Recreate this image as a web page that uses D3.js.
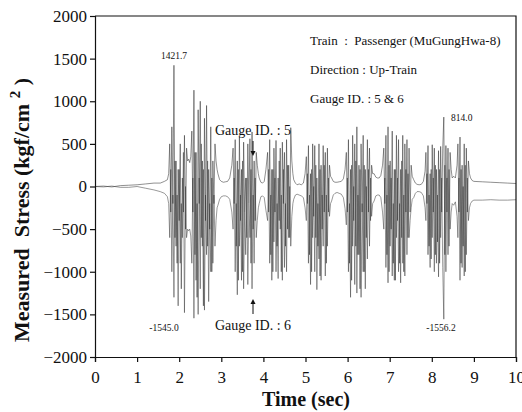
<!DOCTYPE html>
<html>
<head>
<meta charset="utf-8">
<script src="https://cdn.jsdelivr.net/npm/d3@7"></script>
<style>
body{margin:0;background:#fff}
text{font-family:"Liberation Serif","Times New Roman",serif;fill:#111;white-space:pre}
</style>
</head>
<body>
<div id="chart"></div>
<script>
var width = 522, height = 412;
var margin = {left: 95, right: 6, top: 16, bottom: 55};

// sample step inside the bursts (sec)
var dt = 0.025;

// quiet parts of the record: time, gauge 5, gauge 6
var quietTime = [
  [0, 0.2, 0.4, 0.6, 0.8, 1.0, 1.2, 1.4, 1.55, 1.65, 1.72],
  [2.92, 2.96, 3.0, 3.05, 3.1, 3.15, 3.2, 3.25],
  [3.9, 3.94, 3.98, 4.02, 4.06],
  [4.72, 4.76, 4.8, 4.85, 4.9, 4.95, 4.99],
  [5.62, 5.66, 5.7, 5.75, 5.8, 5.85, 5.9, 5.94],
  [6.63, 6.67, 6.71, 6.75, 6.79, 6.83],
  [7.57, 7.61, 7.65, 7.7, 7.75, 7.8, 7.84],
  [8.52, 8.56, 8.6],
  [8.92, 8.96, 9.0, 9.2, 9.4, 9.6, 9.8, 10]
];
var quietG5 = [
  [0, 5, -5, 10, 15, 20, 30, 40, 40, 60, 80],
  [150, 80, 60, 50, 55, 60, 100, 250],
  [100, 50, 40, 60, 200],
  [80, 40, 20, 30, 20, 40, 150],
  [100, 60, 50, 50, 55, 60, 90, 200],
  [150, 110, 100, 100, 130, 250],
  [80, 40, 25, 20, 25, 60, 180],
  [120, 100, 250],
  [100, 70, 60, 55, 50, 45, 40, 35]
];
var quietG6 = [
  [0, -5, 5, -10, -10, 0, -20, -40, -60, -80, -120],
  [-220, -150, -120, -110, -110, -120, -150, -300],
  [-200, -120, -110, -130, -280],
  [-150, -100, -90, -100, -110, -130, -250],
  [-170, -100, -80, -70, -80, -90, -130, -260],
  [-170, -110, -100, -100, -130, -300],
  [-130, -80, -60, -60, -70, -110, -250],
  [-220, -180, -350],
  [-200, -170, -160, -160, -155, -160, -160, -155]
];

// bursts (wheel passages): start time, then one value per dt
var burstStart = [1.75, 3.28, 4.1, 5.02, 5.97, 6.86, 7.86, 8.62];
var burstG5 = [
  [150, 500, -300, 700, -200, 1421.7, -600, 300, -900, 200, -400, 500, -1200, 100, -300, 600, -500, 450, 300,
   320, 280, 350,
   650, -300, 1130, -800, 400, -1300, 900, -200, 1000, -600, 300, -1400, 800, -400, 950, -700, 200, -500, 700, -1000, 300, -200, 500, 300, 200],
  [450, -200, 550, -700, 300, -1100, 580, -400, 200, -1000, 520, -300, 100, -600, 500, -200, 560, -900, 640, -500, 300, -400, 400, 250, 150],
  [400, -300, 550, -800, 200, -1000, 450, -300, 540, -700, 100, -400, 450, -1000, 520, -200, 400, -700, 550, -500, 250, -600, 690, 300, 150],
  [350, -200, 480, -800, 150, -1000, 500, -350, 480, -600, 100, -700, 500, -1050, 250, -500, 480, -300, 400, -900, 450, -300, 250, 120],
  [400, -300, 550, -900, 200, -1100, 600, -400, 500, -700, 700, -800, 250, -1200, 500, -300, 600, -1000, 200, -600, 550, -300, 450, -400, 250, 150],
  [450, -200, 600, -800, 700, -1000, 300, -500, 650, -900, 200, -1100, 600, -400, 550, -900, 200, -600, 600, -1000, 500, -300, 550, -600, 450, -300, 250, 120],
  [400, -200, 480, -700, 150, -850, 490, -300, 450, -800, 200, -650, 420, -900, 470, -300, 450, 814.0, -800, 480, -300, 450, -700, 400, 200, 100],
  [500, -300, 580, -900, 250, -700, 500, -1000, 450, -300, 300, 150]
];
var burstG6 = [
  [-200, -600, 200, -1000, -100, -1300, 300, -700, -100, -1400, 200, -900, -200, -600, 400, -1480, 0, -600, -500,
   -520, -500, -580,
   -900, 100, -1545.0, 400, -1100, -200, -1500, 100, -1200, 500, -700, 200, -1450, -100, -800, 300, -1350, -200, -1000, 100, -900, -100, -700, -400, -250],
  [-500, 100, -1000, -200, -1270, 200, -700, -100, -1100, 300, -1200, -300, -800, 100, -1150, -200, -600, 200, -1200, -100, -900, 100, -600, -400, -250],
  [-400, 200, -900, -100, -1100, 200, -650, 100, -1000, -200, -1080, 300, -500, -100, -1100, 200, -950, -200, -1000, 250, -600, 0, -700, -350, -200],
  [-400, 150, -900, -100, -1150, 200, -600, 0, -1000, 250, -1210, -200, -850, 200, -1100, -100, -700, 250, -1050, -100, -700, 100, -350, -200],
  [-450, 100, -1000, -200, -1300, 250, -700, 0, -1150, 300, -1250, -100, -800, 200, -1300, -200, -1000, 250, -1200, 0, -850, 200, -700, 100, -350, -200],
  [-500, 100, -950, -100, -1130, 250, -700, 100, -1050, -200, -1100, 200, -600, 100, -1000, -200, -1130, 300, -900, -100, -1050, 200, -800, 150, -600, -400, -250, -150],
  [-400, 150, -800, -100, -950, 200, -600, 100, -1000, 250, -900, -100, -1060, 200, -600, 100, -950, -1556.2, 250, -1000, 100, -800, 200, -500, -300, -200],
  [-600, 100, -1100, 200, -950, 0, -1050, 250, -800, 100, -400, -250]
];

var xTicks = [0, 1, 2, 3, 4, 5, 6, 7, 8, 9, 10];
var yTicks = [-2000, -1500, -1000, -500, 0, 500, 1000, 1500, 2000];

// peak labels
var peaks = [
  {text: "1421.7", x: 174, y: 59, anchor: "middle"},
  {text: "-1545.0", x: 164, y: 331, anchor: "middle"},
  {text: "-1556.2", x: 441, y: 331, anchor: "middle"},
  {text: "814.0", x: 451, y: 121, anchor: "start"}
];
var infoLines = ["Train  :  Passenger (MuGungHwa-8)", "Direction : Up-Train", "Gauge ID. : 5 & 6"];

// put the record together in time order
var rec = [];
for (var k = 0; k < quietTime.length; k++) {
  for (var i = 0; i < quietTime[k].length; i++) {
    rec.push({t: quietTime[k][i], g5: quietG5[k][i], g6: quietG6[k][i]});
  }
  if (k < burstStart.length) {
    for (var j = 0; j < burstG5[k].length; j++) {
      rec.push({t: burstStart[k] + j * dt, g5: burstG5[k][j], g6: burstG6[k][j]});
    }
  }
}

var svg = d3.select("#chart").append("svg")
  .attr("width", width).attr("height", height);

var x = d3.scaleLinear().domain([0, 10]).range([margin.left, width - margin.right]);
var y = d3.scaleLinear().domain([-2000, 2000]).range([height - margin.bottom, margin.top]);

// traces
var line5 = d3.line().x(function(d) { return x(d.t); }).y(function(d) { return y(d.g5); });
var line6 = d3.line().x(function(d) { return x(d.t); }).y(function(d) { return y(d.g6); });
svg.append("path").datum(rec).attr("d", line6)
  .attr("fill", "none").attr("stroke", "#444").attr("stroke-width", 0.55);
svg.append("path").datum(rec).attr("d", line5)
  .attr("fill", "none").attr("stroke", "#333").attr("stroke-width", 0.55);

// frame top / right
svg.append("path")
  .attr("d", "M" + x(0) + "," + y(2000) + "H" + x(10) + "V" + y(-2000))
  .attr("fill", "none").attr("stroke", "#111").attr("stroke-width", 1.2);

var gx = svg.append("g").attr("transform", "translate(0," + y(-2000) + ")")
  .call(d3.axisBottom(x).tickValues(xTicks).tickSize(5).tickPadding(9).tickFormat(d3.format("d")));
var gy = svg.append("g").attr("transform", "translate(" + x(0) + ",0)")
  .call(d3.axisLeft(y).tickValues(yTicks).tickSize(5).tickPadding(3).tickFormat(d3.format("d")));
[gx, gy].forEach(function(g) {
  g.select(".domain").attr("stroke", "#111").attr("stroke-width", 1.2);
  g.selectAll(".tick line").attr("stroke", "#111").attr("stroke-width", 1.2);
  g.selectAll(".tick text").attr("font-family", "Liberation Serif").attr("font-size", 17).attr("fill", "#111");
});

// axis titles
svg.append("text").attr("x", 306).attr("y", 406).attr("text-anchor", "middle")
  .attr("font-size", 20).attr("font-weight", "bold").text("Time (sec)");
var yl = svg.append("text").attr("transform", "translate(29,210) rotate(-90)")
  .attr("text-anchor", "middle").attr("font-size", 22).attr("font-weight", "bold");
yl.append("tspan").text("Measured  Stress (kgf/cm ");
yl.append("tspan").attr("dy", -9).attr("font-size", 15).text("2");
yl.append("tspan").attr("dy", 9).text(" )");

// info block
svg.selectAll(".info").data(infoLines).enter().append("text")
  .attr("x", 310).attr("y", function(d, i) { return 45 + i * 29; })
  .attr("font-size", 13).text(function(d) { return d; });

// gauge labels and arrows
svg.append("text").attr("x", 253).attr("y", 135).attr("text-anchor", "middle")
  .attr("font-size", 14).text("Gauge ID. : 5");
svg.append("text").attr("x", 253).attr("y", 330).attr("text-anchor", "middle")
  .attr("font-size", 14).text("Gauge ID. : 6");
function arrow(x0, y0, y1) {
  var dir = y1 > y0 ? 1 : -1;
  svg.append("line").attr("x1", x0).attr("x2", x0).attr("y1", y0).attr("y2", y1 - dir * 3)
    .attr("stroke", "#111").attr("stroke-width", 1);
  svg.append("path")
    .attr("d", "M" + (x0 - 2.5) + "," + (y1 - dir * 5) + "L" + x0 + "," + y1 + "L" + (x0 + 2.5) + "," + (y1 - dir * 5) + "Z")
    .attr("fill", "#111");
}
arrow(253, 141, 156);
arrow(253, 314, 299);

// peak value labels
svg.selectAll(".peak").data(peaks).enter().append("text")
  .attr("x", function(d) { return d.x; }).attr("y", function(d) { return d.y; })
  .attr("text-anchor", function(d) { return d.anchor; })
  .attr("font-size", 9.5).text(function(d) { return d.text; });
</script>
</body>
</html>
